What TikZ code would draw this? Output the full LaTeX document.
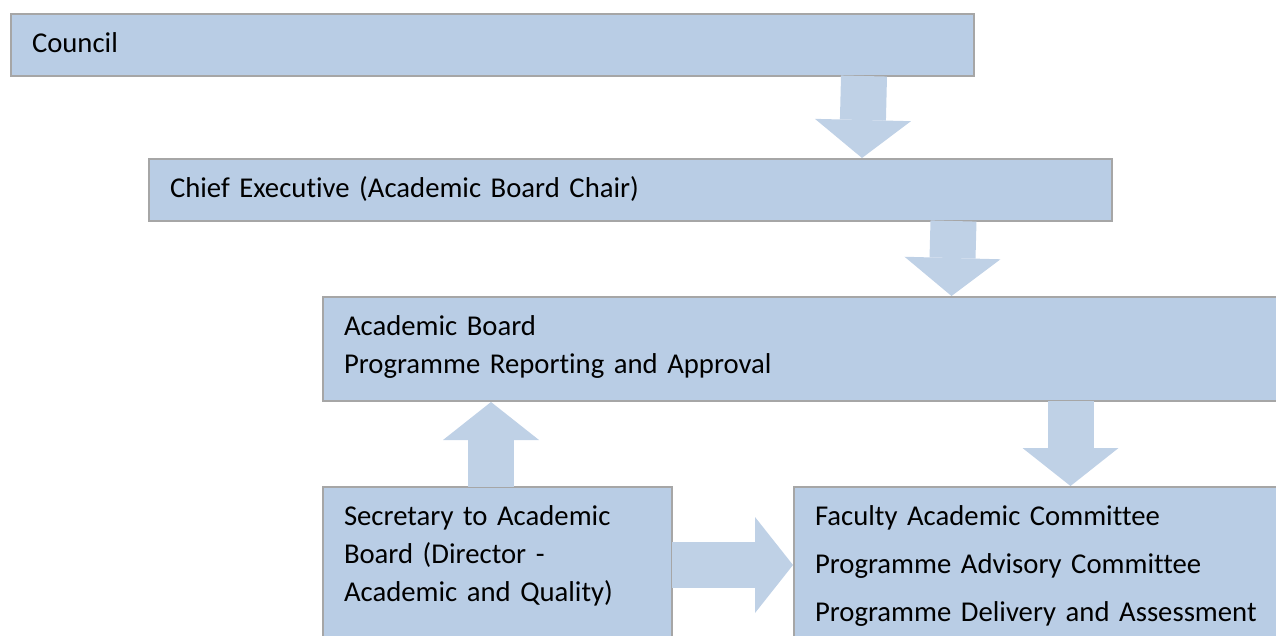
\documentclass[tikz,border=0pt]{standalone}
\usepackage{fontspec}
\setmainfont[Ligatures=NoCommon]{Carlito}
\usetikzlibrary{arrows.meta,calc}
\definecolor{boxblue}{RGB}{185,205,229}
\definecolor{boxline}{RGB}{166,166,166}
\definecolor{arrblue}{RGB}{191,209,230}

\begin{document}
\begin{tikzpicture}[x=1pt, y=-1pt,
    bx/.style={draw=boxline, line width=2pt, fill=boxblue, anchor=north west,
      align=left, inner xsep=21pt, inner ysep=14pt, text height=24pt, text depth=10pt,
      font=\fontsize{28.7}{38}\selectfont},
    blk/.style={arrblue, line width=46pt,
      -{Triangle[width=96pt, length=38pt, line width=0pt]}},]
    \useasboundingbox (0,0) rectangle (1276,635);
    \clip (0,0) rectangle (1276,635);
    % boxes
    \node [bx, text width=921pt] (council) at (10,13) {Council};
    \node [bx, text width=921pt] (chief) at (148,158) {Chief Executive (Academic Board Chair)};
    \node [bx, text width=932pt, text depth=52pt] (board) at (322,296)
      {Academic Board\\Programme Reporting and Approval};
    \node [bx, text width=307pt, text depth=200pt] (secretary) at (322,486)
      {Secretary to Academic\\Board (Director -\\Academic and Quality)};
    \node [bx, text width=461pt, text depth=200pt] (faculty) at (793,486)
      {Faculty Academic Committee\\[10pt]Programme Advisory Committee\\[10pt]Programme Delivery and Assessment};
    % block arrows
    \draw [blk] ($(council.south east)+(-111,-1)$) -- ($(chief.north west)+(714,0)$);
    \draw [blk] ($(chief.south east)+(-159.5,-1)$) -- ($(board.north west)+(629.5,0)$);
    \draw [blk] ($(board.south west)+(748.5,-1)$) -- ($(faculty.north west)+(277.5,0)$);
    \draw [blk] ($(secretary.north west)+(169,1)$) -- ($(board.south west)+(169,0)$);
    \draw [blk] ($(secretary.north east)+(-1,79)$) -- ($(faculty.north west)+(0,79)$);
\end{tikzpicture}
\end{document}
